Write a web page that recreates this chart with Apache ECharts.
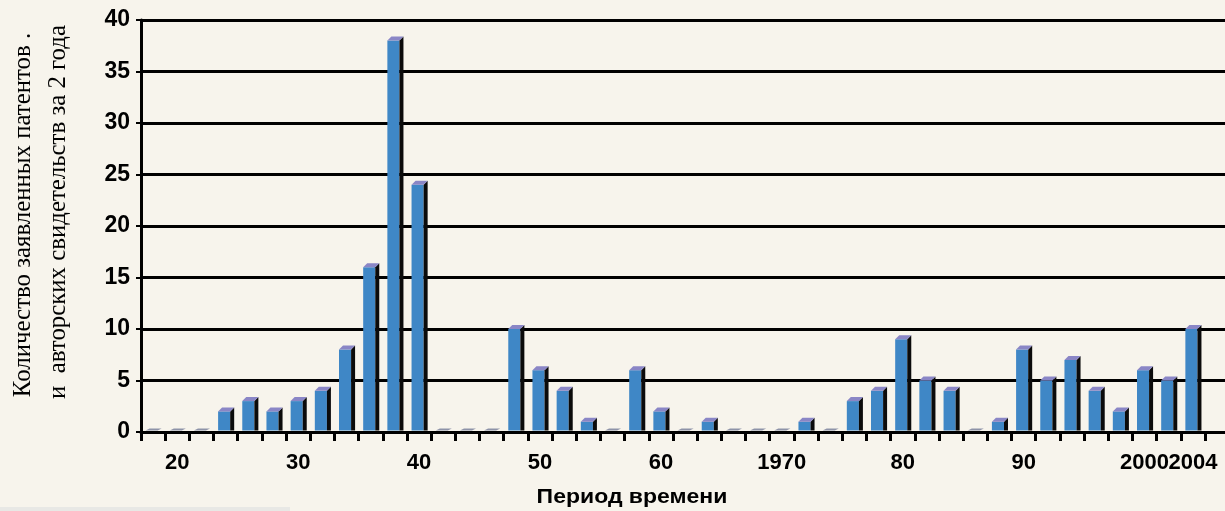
<!DOCTYPE html>
<html>
<head>
<meta charset="utf-8">
<script src="https://cdn.jsdelivr.net/npm/echarts@6/dist/echarts.min.js"></script>
<style>
html,body{margin:0;padding:0;background:#f7f4ec;}
#chart{width:1225px;height:511px;}
</style>
</head>
<body>
<div id="chart"></div>
<script>
// Two-year periods (categories)
const years = [1918,1920,1922,1924,1926,1928,1930,1932,1934,1936,1938,1940,1942,1944,1946,1948,1950,1952,1954,1956,1958,1960,1962,1964,1966,1968,1970,1972,1974,1976,1978,1980,1982,1984,1986,1988,1990,1992,1994,1996,1998,2000,2002,2004];
// Number of applications per two-year period
const counts = [0,0,0,2,3,2,3,4,8,16,38,24,0,0,0,10,6,4,1,0,6,2,0,1,0,0,0,1,0,3,4,9,5,4,0,1,8,5,7,4,2,6,5,10];
// Tick labels on the x axis
const labelYears = [1920,1930,1940,1950,1960,1970,1980,1990,2000,2004];
const labelTexts = ['20','30','40','50','60','1970','80','90','2000','2004'];
const yTicks = [0,5,10,15,20,25,30,35,40];

const yTitle1 = 'Количество заявленных патентов .';
const yTitle2 = 'и  авторских свидетельств за 2 года';
const xTitle = 'Период времени';

const chart = echarts.init(document.getElementById('chart'), null, {renderer:'canvas'});

function labelFor(cat){
  const i = labelYears.indexOf(Number(cat));
  return i >= 0 ? labelTexts[i] : '';
}

const FRONT = '#3f87c6', SIDE = '#0b0b0b', CAP = '#8a86c6', ZERO = '#8e93a8';

const option = {
  backgroundColor: '#f7f4ec',
  animation: false,
  grid: [
    {left: 141, right: 0, top: 20, bottom: 79},
    {left: 141, right: 20, top: 20, bottom: 79}
  ],
  xAxis: [
    {type: 'value', gridIndex: 0, min: 0, max: 1,
     axisLine: {show: true, lineStyle: {color: '#000', width: 3}},
     axisTick: {show: false}, axisLabel: {show: false}, splitLine: {show: false}},
    {type: 'category', gridIndex: 1, data: years.map(String), boundaryGap: true,
     axisLine: {show: false},
     axisTick: {show: true, interval: 0, length: 9, inside: false, lineStyle: {color: '#000', width: 3}},
     axisLabel: {interval: 0, formatter: labelFor, color: '#000', fontFamily: 'Liberation Sans, Arial', fontWeight: 'bold', fontSize: 22, margin: 20},
     splitLine: {show: false}}
  ],
  yAxis: [
    {type: 'value', gridIndex: 0, min: 0, max: 40, interval: 5,
     axisLine: {show: false}, axisTick: {show: false}, axisLabel: {show: false},
     splitLine: {show: true, lineStyle: {color: '#000', width: 3}}},
    {type: 'value', gridIndex: 1, min: 0, max: 40, interval: 5,
     axisLine: {show: true, lineStyle: {color: '#000', width: 3}},
     axisTick: {show: true, length: 5, lineStyle: {color: '#000', width: 2}},
     axisLabel: {color: '#000', fontFamily: 'Liberation Sans, Arial', fontWeight: 'bold', fontSize: 23, margin: 11,
                 formatter: v => (yTicks.indexOf(v) >= 0 ? String(v) : '')},
     splitLine: {show: false}}
  ],
  series: [{
    type: 'custom',
    xAxisIndex: 1, yAxisIndex: 1,
    data: counts.map((v, i) => [i, v]),
    z: 5,
    renderItem: function(params, api){
      const xi = api.value(0), v = api.value(1);
      const top = api.coord([xi, v]);
      const base = api.coord([xi, 0]);
      const band = api.size([1, 0])[0];
      const w = band * 0.5;
      const d = 4;
      const left = top[0] - w / 2 - 1.5;
      const by = base[1] - 1.5;
      const ty = Math.min(top[1], by);
      const children = [];
      if (v > 0) {
        children.push({type: 'rect', shape: {x: left, y: ty, width: w, height: by - ty}, style: {fill: FRONT}});
        children.push({type: 'polygon', shape: {points: [[left + w, ty], [left + w + d, ty - d], [left + w + d, by], [left + w, by]]}, style: {fill: SIDE}});
        children.push({type: 'polygon', shape: {points: [[left, ty], [left + d, ty - d], [left + w + d, ty - d], [left + w, ty]]}, style: {fill: CAP}});
      } else {
        children.push({type: 'polygon', shape: {points: [[left, by], [left + d, by - 2], [left + w + d, by - 2], [left + w, by]]}, style: {fill: ZERO}});
      }
      return {type: 'group', children: children};
    }
  }],
  graphic: [
    {type: 'text', x: 23, y: 215, rotation: Math.PI / 2, scaleX: 1.08, scaleY: 1.1,
     style: {text: yTitle1, fontFamily: 'Liberation Serif, Times New Roman', fontSize: 23, fill: '#000', textAlign: 'center', textVerticalAlign: 'middle'}},
    {type: 'text', x: 58, y: 212, rotation: Math.PI / 2, scaleX: 1.08, scaleY: 1.1,
     style: {text: yTitle2, fontFamily: 'Liberation Serif, Times New Roman', fontSize: 23, fill: '#000', textAlign: 'center', textVerticalAlign: 'middle'}},
    {type: 'text', x: 632, y: 497, scaleX: 1.15,
     style: {text: xTitle, fontFamily: 'Liberation Sans, Arial', fontWeight: 'bold', fontSize: 20, fill: '#000', textAlign: 'center', textVerticalAlign: 'middle'}},
    {type: 'rect', shape: {x: 0, y: 507, width: 290, height: 4}, style: {fill: '#e8e8e5'}}
  ]
};
chart.setOption(option);
</script>
</body>
</html>
